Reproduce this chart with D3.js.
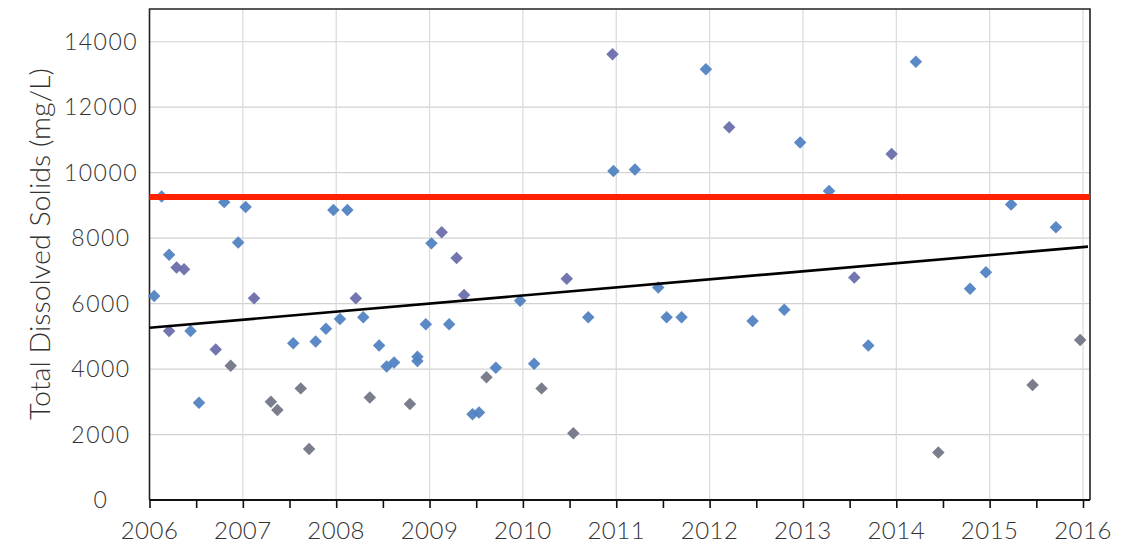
<!DOCTYPE html>
<html>
<head>
<meta charset="utf-8">
<script src="https://cdn.jsdelivr.net/npm/d3@7"></script>
<style>
  html, body { margin: 0; padding: 0; background: #fff; }
  svg { display: block; font-family: "Lato", "Open Sans", sans-serif; font-weight: 300; }
</style>
</head>
<body>
<div id="chart"></div>
<script>
// Sample dates as decimal years, TDS in mg/L, and a colour group per sample.
const sampleYears = [
  2006.05, 2006.13, 2006.21, 2006.21, 2006.29, 2006.37, 2006.44, 2006.53, 2006.71, 2006.80,
  2006.87, 2006.95, 2007.03, 2007.12, 2007.30, 2007.37, 2007.54, 2007.62, 2007.71, 2007.78,
  2007.89, 2007.97, 2008.04, 2008.12, 2008.21, 2008.29, 2008.36, 2008.46, 2008.54, 2008.62,
  2008.79, 2008.87, 2008.87, 2008.96, 2009.02, 2009.13, 2009.21, 2009.29, 2009.37, 2009.46,
  2009.53, 2009.61, 2009.71, 2009.97, 2010.12, 2010.20, 2010.47, 2010.54, 2010.70, 2010.96,
  2010.97, 2011.20, 2011.45, 2011.54, 2011.70, 2011.96, 2012.21, 2012.46, 2012.80, 2012.97,
  2013.28, 2013.55, 2013.70, 2013.95, 2014.21, 2014.45, 2014.79, 2014.96, 2015.23, 2015.46,
  2015.71, 2015.97
];
const tdsValues = [
  6230, 9270, 7490, 5160, 7100, 7050, 5160, 2970, 4600, 9100,
  4100, 7870, 8950, 6160, 3000, 2750, 4790, 3410, 1560, 4840,
  5230, 8860, 5530, 8860, 6160, 5580, 3130, 4720, 4080, 4200,
  2930, 4250, 4380, 5370, 7840, 8180, 5370, 7390, 6260, 2620,
  2670, 3750, 4040, 6090, 4160, 3410, 6760, 2040, 5580, 13620,
  10050, 10100, 6490, 5580, 5580, 13160, 11390, 5470, 5810, 10920,
  9440, 6800, 4720, 10570, 13390, 1450, 6450, 6960, 9030, 3510,
  8330, 4890
];
const sampleGroups = [
  "b", "b", "b", "p", "p", "p", "b", "b", "p", "b",
  "g", "b", "b", "p", "g", "g", "b", "g", "g", "b",
  "b", "b", "b", "b", "p", "b", "g", "b", "b", "b",
  "g", "b", "b", "b", "b", "p", "b", "p", "p", "b",
  "b", "g", "b", "b", "b", "g", "p", "g", "b", "p",
  "b", "b", "b", "b", "b", "b", "p", "b", "b", "b",
  "b", "p", "b", "p", "b", "g", "b", "b", "b", "g",
  "b", "g"
];
const groupColors = { b: "#5183c2", p: "#6a6eab", g: "#737686" };

const yTicks = [0, 2000, 4000, 6000, 8000, 10000, 12000, 14000];
const xTicks = [2006, 2007, 2008, 2009, 2010, 2011, 2012, 2013, 2014, 2015, 2016];
const limitValue = 9260;              // red reference line
const trendYears = [2006, 2016.075];
const trendValues = [5260, 7740];
const yLabel = "Total Dissolved Solids (mg/L)";

const width = 1129;
const height = 548;
const plotLeft = 149.5, plotRight = 1090, plotTop = 9, plotBottom = 500;

const x = d3.scaleLinear().domain([2006, 2016.075]).range([plotLeft, plotRight]);
const y = d3.scaleLinear().domain([0, 15000]).range([plotBottom, plotTop]);

const svg = d3.select("#chart").append("svg")
  .attr("width", width)
  .attr("height", height);

// grid
svg.append("g").selectAll("line")
  .data(yTicks.filter((t) => t > 0))
  .join("line")
  .attr("x1", plotLeft).attr("x2", plotRight)
  .attr("y1", (d) => y(d)).attr("y2", (d) => y(d))
  .attr("stroke", "#d2d2d2").attr("stroke-width", 1.2);

svg.append("g").selectAll("line")
  .data(xTicks.slice(1))
  .join("line")
  .attr("x1", (d) => x(d)).attr("x2", (d) => x(d))
  .attr("y1", plotTop).attr("y2", plotBottom)
  .attr("stroke", "#dadada").attr("stroke-width", 1.2);

// frame
svg.append("path")
  .attr("d", `M${plotLeft},${plotBottom}V${plotTop}H${plotRight}V${plotBottom}`)
  .attr("fill", "none").attr("stroke", "#222").attr("stroke-width", 1.6);

// x axis with half-year ticks
const xAxis = d3.axisBottom(x)
  .tickValues(d3.range(2006, 2016.01, 0.5))
  .tickSize(8)
  .tickFormat("");
svg.append("g")
  .attr("transform", `translate(0,${plotBottom})`)
  .call(xAxis)
  .call((g) => g.select(".domain").attr("d", `M${plotLeft},0H${plotRight}`).attr("stroke-width", 2.2).attr("stroke", "#111"))
  .call((g) => g.selectAll(".tick line").attr("stroke-width", 1.6).attr("stroke", "#111"));

svg.append("g").selectAll("text")
  .data(xTicks)
  .join("text")
  .attr("x", (d) => x(d))
  .attr("y", 539)
  .attr("text-anchor", "middle")
  .attr("font-size", 24)
  .attr("letter-spacing", 0.5)
  .attr("fill", "#333")
  .text((d) => d);

// y tick labels are centred in the original
svg.append("g").selectAll("text")
  .data(yTicks)
  .join("text")
  .attr("x", 101)
  .attr("y", (d) => y(d))
  .attr("dy", "0.35em")
  .attr("text-anchor", "middle")
  .attr("font-size", 23)
  .attr("letter-spacing", 1.5)
  .attr("fill", "#333")
  .text((d) => d);

svg.append("text")
  .attr("transform", `translate(50,${244}) rotate(-90)`)
  .attr("text-anchor", "middle")
  .attr("font-size", 27)
  .attr("fill", "#333")
  .attr("textLength", 352)
  .attr("lengthAdjust", "spacingAndGlyphs")
  .text(yLabel);

// points
const points = sampleYears.map((yr, i) => ({ yr, v: tdsValues[i], g: sampleGroups[i] }));
const diamond = d3.symbol(d3.symbolSquare, 78);
svg.append("g").selectAll("path")
  .data(points)
  .join("path")
  .attr("d", diamond)
  .attr("transform", (d) => `translate(${x(d.yr)},${y(d.v)}) rotate(45)`)
  .attr("fill", (d) => groupColors[d.g])
  .attr("opacity", 0.95);

// red limit line
svg.append("line")
  .attr("x1", plotLeft).attr("x2", plotRight)
  .attr("y1", y(limitValue)).attr("y2", y(limitValue))
  .attr("stroke", "#ff2200").attr("stroke-width", 6);

// trend line
svg.append("line")
  .attr("x1", x(trendYears[0])).attr("x2", x(trendYears[1]) - 2)
  .attr("y1", y(trendValues[0])).attr("y2", y(trendValues[1]))
  .attr("stroke", "#000").attr("stroke-width", 2.6);
</script>
</body>
</html>
